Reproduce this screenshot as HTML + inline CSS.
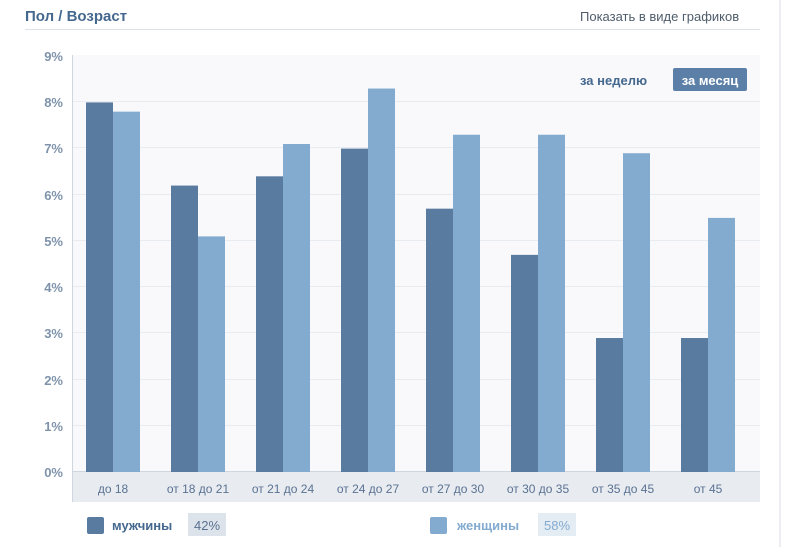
<!DOCTYPE html>
<html><head><meta charset="utf-8"><style>
body{margin:0;background:#fff;width:807px;height:547px;position:relative;overflow:hidden;font-family:"Liberation Sans",sans-serif}
.a{position:absolute}
</style></head><body>
<div class="a" style="left:25px;top:8px;font-size:15px;font-weight:bold;color:#45688e">Пол / Возраст</div>
<div class="a" style="left:580px;top:9px;font-size:13px;color:#4f5c6b">Показать в виде графиков</div>
<div class="a" style="left:25px;top:29px;width:735px;height:1px;background:#dde3ea"></div>
<div class="a" style="left:779px;top:0;width:2px;height:547px;background:#eceef2"></div>
<svg class="a" style="left:0;top:0" width="807" height="547">
<rect x="73" y="55" width="687" height="417" fill="#f9f9fb"/>
<rect x="73" y="472" width="687" height="30" fill="#e8ecf1"/>
<g stroke="#e8ebf0" stroke-width="1">
<line x1="73" x2="760" y1="101.5" y2="101.5"/><line x1="73" x2="760" y1="147.5" y2="147.5"/>
<line x1="73" x2="760" y1="194.5" y2="194.5"/><line x1="73" x2="760" y1="240.5" y2="240.5"/>
<line x1="73" x2="760" y1="286.5" y2="286.5"/><line x1="73" x2="760" y1="332.5" y2="332.5"/>
<line x1="73" x2="760" y1="379.5" y2="379.5"/><line x1="73" x2="760" y1="425.5" y2="425.5"/>
</g>
<line x1="73" x2="760" y1="471.5" y2="471.5" stroke="#cfd6df"/>
<line x1="72.5" x2="72.5" y1="55" y2="502" stroke="#cfd6df"/>
<g font-size="13" font-weight="bold" fill="#7f93ab" text-anchor="end" font-family="Liberation Sans,sans-serif">
<text x="63" y="61">9%</text><text x="63" y="107">8%</text><text x="63" y="153">7%</text>
<text x="63" y="200">6%</text><text x="63" y="246">5%</text><text x="63" y="292">4%</text>
<text x="63" y="338">3%</text><text x="63" y="385">2%</text><text x="63" y="431">1%</text>
<text x="63" y="477">0%</text></g>
<g id="bars"></g>
<g font-size="12" fill="#5a7191" text-anchor="middle" id="labels"></g>
<text x="580" y="85" font-size="13" font-weight="bold" fill="#45688e">за неделю</text>
<rect x="673" y="68" width="74" height="23" rx="2" fill="#5b7fa6"/>
<text x="710" y="85" font-size="13" font-weight="bold" fill="#fff" text-anchor="middle">за месяц</text>
<rect x="87" y="517" width="17" height="17" rx="2" fill="#5a7ba0"/>
<text x="112" y="530" font-size="13" font-weight="bold" fill="#45688e">мужчины</text>
<rect x="188" y="513" width="38" height="23" fill="#dde3ea"/>
<text x="207" y="530" font-size="13" fill="#5a7191" text-anchor="middle">42%</text>
<rect x="430" y="517" width="17" height="17" rx="2" fill="#83abd0"/>
<text x="457" y="530" font-size="13" font-weight="bold" fill="#83abd0">женщины</text>
<rect x="538" y="513" width="38" height="23" fill="#e4ecf4"/>
<text x="557" y="530" font-size="13" fill="#83abd0" text-anchor="middle">58%</text>
</svg>
<script>
var m=[8.0,6.2,6.4,7.0,5.7,4.7,2.9,2.9],w=[7.8,5.1,7.1,8.3,7.3,7.3,6.9,5.5];
var L=["до 18","от 18 до 21","от 21 до 24","от 24 до 27","от 27 до 30","от 30 до 35","от 35 до 45","от 45"];
var ns="http://www.w3.org/2000/svg",b=document.getElementById("bars"),l=document.getElementById("labels");
for(var i=0;i<8;i++){var x=86+85*i;
[[m[i],"#5a7ba0",x],[w[i],"#83abd0",x+27]].forEach(function(d){var r=document.createElementNS(ns,"rect");var h=d[0]*46.2;
r.setAttribute("x",d[2]);r.setAttribute("y",472-h);r.setAttribute("width",27);r.setAttribute("height",h);r.setAttribute("fill",d[1]);b.appendChild(r);});
var t=document.createElementNS(ns,"text");t.setAttribute("x",x+27);t.setAttribute("y",493);t.textContent=L[i];l.appendChild(t);}
</script>
</body></html>
